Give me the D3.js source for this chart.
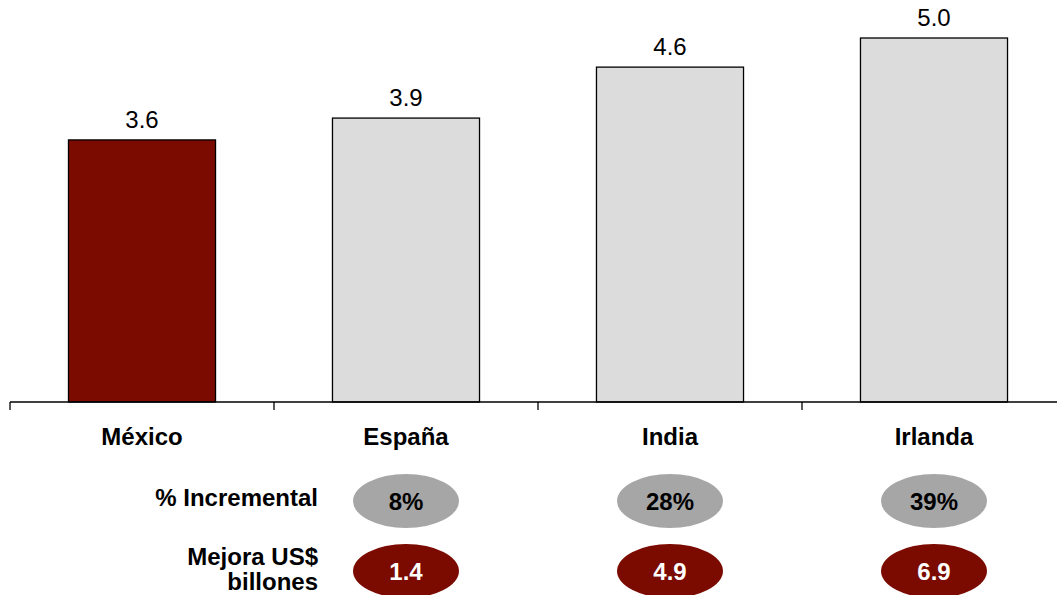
<!DOCTYPE html>
<html><head><meta charset="utf-8">
<script src="https://cdn.jsdelivr.net/npm/d3@7"></script>
<style>body{margin:0;background:#fff}svg{display:block;font-family:"Liberation Sans",Arial,sans-serif}</style>
</head><body>
<svg id="c" width="1057" height="595"></svg>
<script>
const categories = ["México", "España", "India", "Irlanda"];
const values = [3.6, 3.9, 4.6, 5.0];
const valueLabels = ["3.6", "3.9", "4.6", "5.0"];
const incremental = [null, "8%", "28%", "39%"];
const mejora = [null, "1.4", "4.9", "6.9"];
const rowLabels = ["% Incremental", ["Mejora US$", "billones"]];

const svg = d3.select("#c");
const x = d3.scaleBand().domain(categories).range([10, 1066]).paddingInner(0).paddingOuter(0);
const y = d3.scaleLinear().domain([0, 5.0]).range([402, 38]);
const barW = x.bandwidth() * 0.557;
const fs = 24;

// bars
svg.selectAll("rect.bar").data(categories).join("rect")
  .attr("class", "bar")
  .attr("x", d => x(d) + (x.bandwidth() - barW) / 2)
  .attr("y", (d, i) => y(values[i]))
  .attr("width", barW)
  .attr("height", (d, i) => y(0) - y(values[i]))
  .attr("fill", (d, i) => i === 0 ? "#7B0A00" : "#DCDCDC")
  .attr("stroke", "#000").attr("stroke-width", 1.3);

// value labels
svg.selectAll("text.val").data(categories).join("text")
  .attr("x", d => x(d) + x.bandwidth() / 2)
  .attr("y", (d, i) => y(values[i]) - 12)
  .attr("text-anchor", "middle").attr("font-size", fs).attr("fill", "#000")
  .text((d, i) => valueLabels[i]);

// axis line and ticks at band boundaries
svg.append("line").attr("x1", x.range()[0]).attr("x2", 1057).attr("y1", y(0)).attr("y2", y(0))
  .attr("stroke", "#000").attr("stroke-width", 1.5);
svg.selectAll("line.tick").data(categories).join("line")
  .attr("x1", d => x(d)).attr("x2", d => x(d))
  .attr("y1", y(0)).attr("y2", y(0) + 8)
  .attr("stroke", "#000").attr("stroke-width", 1.3);

// category labels
svg.selectAll("text.cat").data(categories).join("text")
  .attr("x", d => x(d) + x.bandwidth() / 2)
  .attr("y", 445)
  .attr("text-anchor", "middle").attr("font-size", fs).attr("font-weight", "bold")
  .text(d => d);

// row labels
svg.append("text").attr("x", 318).attr("y", 506).attr("text-anchor", "end")
  .attr("font-size", fs).attr("font-weight", "bold").text(rowLabels[0]);
rowLabels[1].forEach((t, i) => svg.append("text")
  .attr("x", 318).attr("y", 565 + i * 25).attr("text-anchor", "end")
  .attr("font-size", fs).attr("font-weight", "bold").text(t));

// ellipses
const rows = [
  {vals: incremental, cy: 501, fill: "#A6A6A6", color: "#000"},
  {vals: mejora, cy: 571, fill: "#7B0A00", color: "#fff"}
];
rows.forEach(r => {
  const idx = categories.map((d, i) => i).filter(i => r.vals[i] != null);
  svg.selectAll(null).data(idx).join("ellipse")
    .attr("cx", i => x(categories[i]) + x.bandwidth() / 2)
    .attr("cy", r.cy).attr("rx", 53).attr("ry", 27)
    .attr("fill", r.fill);
  svg.selectAll(null).data(idx).join("text")
    .attr("x", i => x(categories[i]) + x.bandwidth() / 2)
    .attr("y", r.cy + 9)
    .attr("text-anchor", "middle").attr("font-size", fs).attr("font-weight", "bold")
    .attr("fill", r.color)
    .text(i => r.vals[i]);
});
</script>
</body></html>
